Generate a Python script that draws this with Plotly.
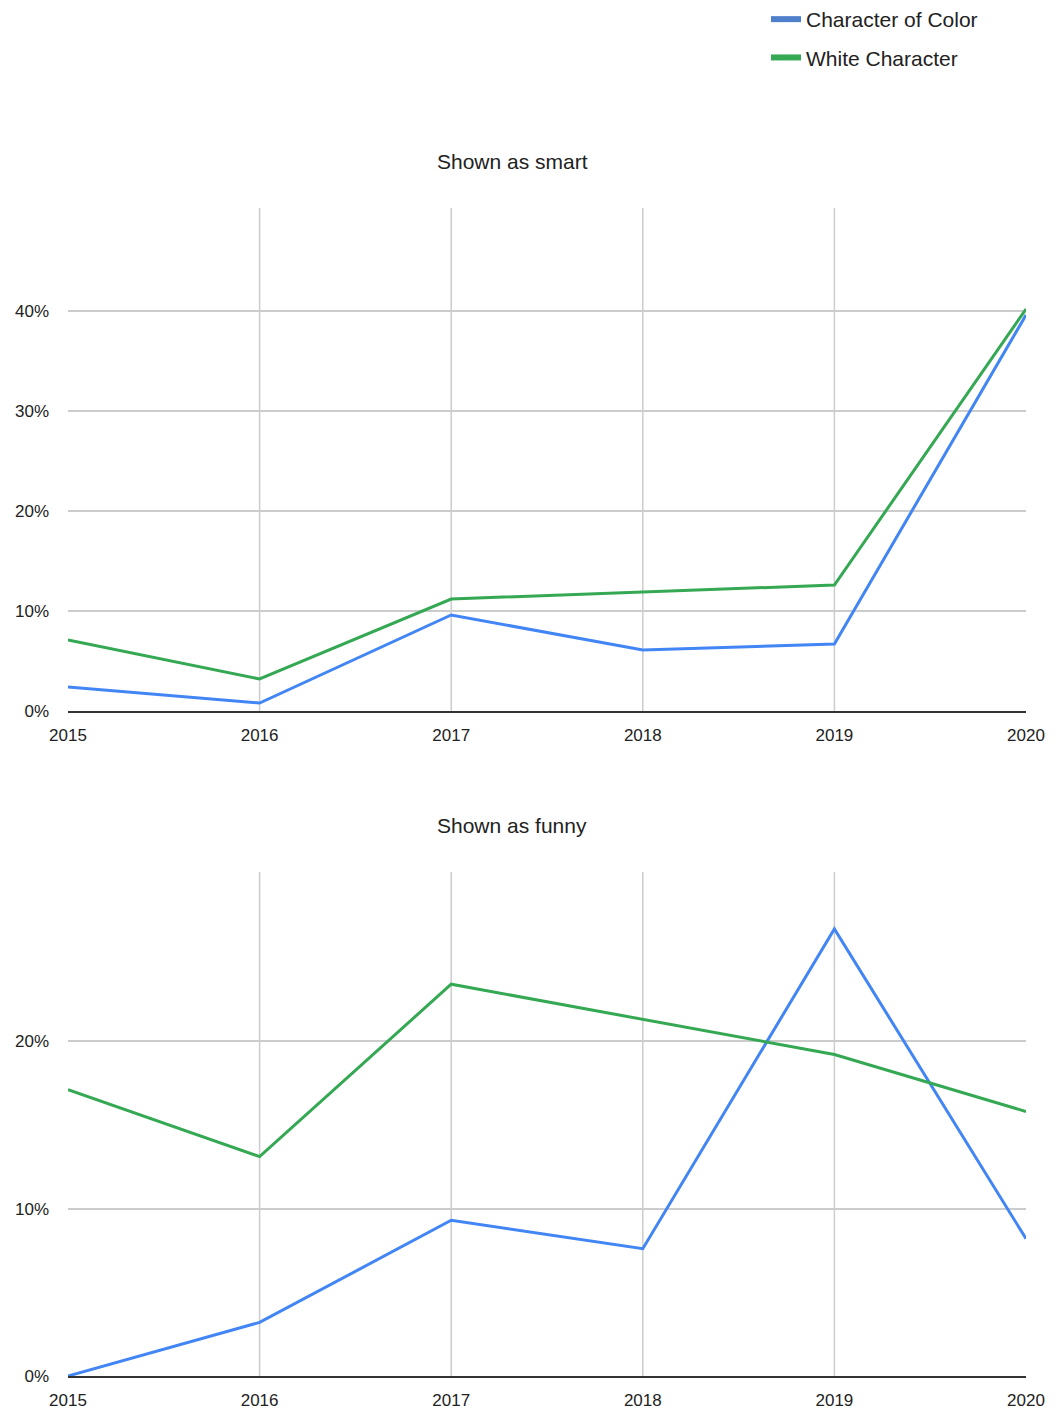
import plotly.graph_objects as go

years = [2015, 2016, 2017, 2018, 2019, 2020]
smart_color = [0.024, 0.008, 0.096, 0.061, 0.067, 0.396]
smart_white = [0.071, 0.032, 0.112, 0.119, 0.126, 0.402]
funny_color = [0.000, 0.032, 0.093, 0.076, 0.267, 0.082]
funny_white = [0.171, 0.131, 0.234, 0.213, 0.192, 0.158]

series_names = ["Character of Color", "White Character"]
series_colors = ["#4285F4", "#34A853"]
legend_colors = ["#4e7fcb", "#34A853"]
titles = ["Shown as smart", "Shown as funny"]

W, H = 1060, 1410
OFF = 8  # page body margin
FONT = "Liberation Sans, Arial, sans-serif"


def px_x(v):
    return (v - OFF) / W


def px_y(v):
    return 1 - (v - OFF) / H


fig = go.Figure()

# legend-only entries (thick swatches)
for i, (name, col) in enumerate(zip(series_names, legend_colors)):
    fig.add_trace(go.Scatter(x=[None], y=[None], mode="lines", name=name,
                             line=dict(color=col, width=6), xaxis="x", yaxis="y",
                             legendgroup=f"g{i}", hoverinfo="skip"))

fig.add_trace(go.Scatter(x=years, y=smart_color, mode="lines", name=series_names[0],
                         line=dict(color=series_colors[0], width=3), xaxis="x", yaxis="y",
                         showlegend=False))
fig.add_trace(go.Scatter(x=years, y=smart_white, mode="lines", name=series_names[1],
                         line=dict(color=series_colors[1], width=3), xaxis="x", yaxis="y",
                         showlegend=False))
fig.add_trace(go.Scatter(x=years, y=funny_color, mode="lines", name=series_names[0],
                         line=dict(color=series_colors[0], width=3), xaxis="x2", yaxis="y2",
                         showlegend=False))
fig.add_trace(go.Scatter(x=years, y=funny_white, mode="lines", name=series_names[1],
                         line=dict(color=series_colors[1], width=3), xaxis="x2", yaxis="y2",
                         showlegend=False))

xdom = [px_x(68), px_x(1026)]
ydom1 = [px_y(711), px_y(208)]
ydom2 = [px_y(1376), px_y(872)]

xcommon = dict(domain=xdom, range=[years[0], years[-1]], tickvals=years,
               ticktext=[str(y) for y in years], showgrid=False, zeroline=False,
               showline=True, linecolor="#333333", linewidth=1.5, automargin=False,
               tickfont=dict(size=17, color="#222222", family=FONT),
               ticks="", ticklabelstandoff=8, fixedrange=True)
ycommon = dict(tickformat=".0%", showgrid=True, gridcolor="#cccccc", gridwidth=1.5,
               zeroline=False, showline=False, ticks="", automargin=False,
               tickfont=dict(size=17, color="#222222", family=FONT),
               ticklabelstandoff=18, fixedrange=True)

fig.update_layout(
    template="none",
    width=W, height=H,
    margin=dict(l=0, r=0, t=0, b=0, pad=0, autoexpand=False),
    paper_bgcolor="white", plot_bgcolor="white",
    font=dict(family=FONT, color="#222222"),
    xaxis=dict(**xcommon, anchor="y"),
    yaxis=dict(**ycommon, domain=ydom1, range=[0, 0.503], tickvals=[0, 0.1, 0.2, 0.3, 0.4],
               anchor="x"),
    xaxis2=dict(**xcommon, anchor="y2"),
    yaxis2=dict(**ycommon, domain=ydom2, range=[0, 0.301], tickvals=[0, 0.1, 0.2],
                anchor="x2"),
    legend=dict(x=px_x(766), y=px_y(-1), xanchor="left", yanchor="top",
                font=dict(size=21, color="#222222", family=FONT),
                bgcolor="rgba(0,0,0,0)", borderwidth=0, tracegroupgap=8),
    showlegend=True,
)

shapes = []
for xr, yr in [("x", "y domain"), ("x2", "y2 domain")]:
    for yv in years[1:-1]:
        shapes.append(dict(type="line", xref=xr, yref=yr, x0=yv, x1=yv, y0=0, y1=1,
                           line=dict(color="#cccccc", width=1.5), layer="below"))
fig.update_layout(shapes=shapes)

annotations = []
for t, ypx in zip(titles, [161, 825]):
    annotations.append(dict(text=t, x=px_x(512), y=px_y(ypx), xref="paper", yref="paper",
                            xanchor="center", yanchor="middle", showarrow=False,
                            font=dict(size=21, color="#222222", family=FONT)))
fig.update_layout(annotations=annotations)

fig.write_html("out.html")
